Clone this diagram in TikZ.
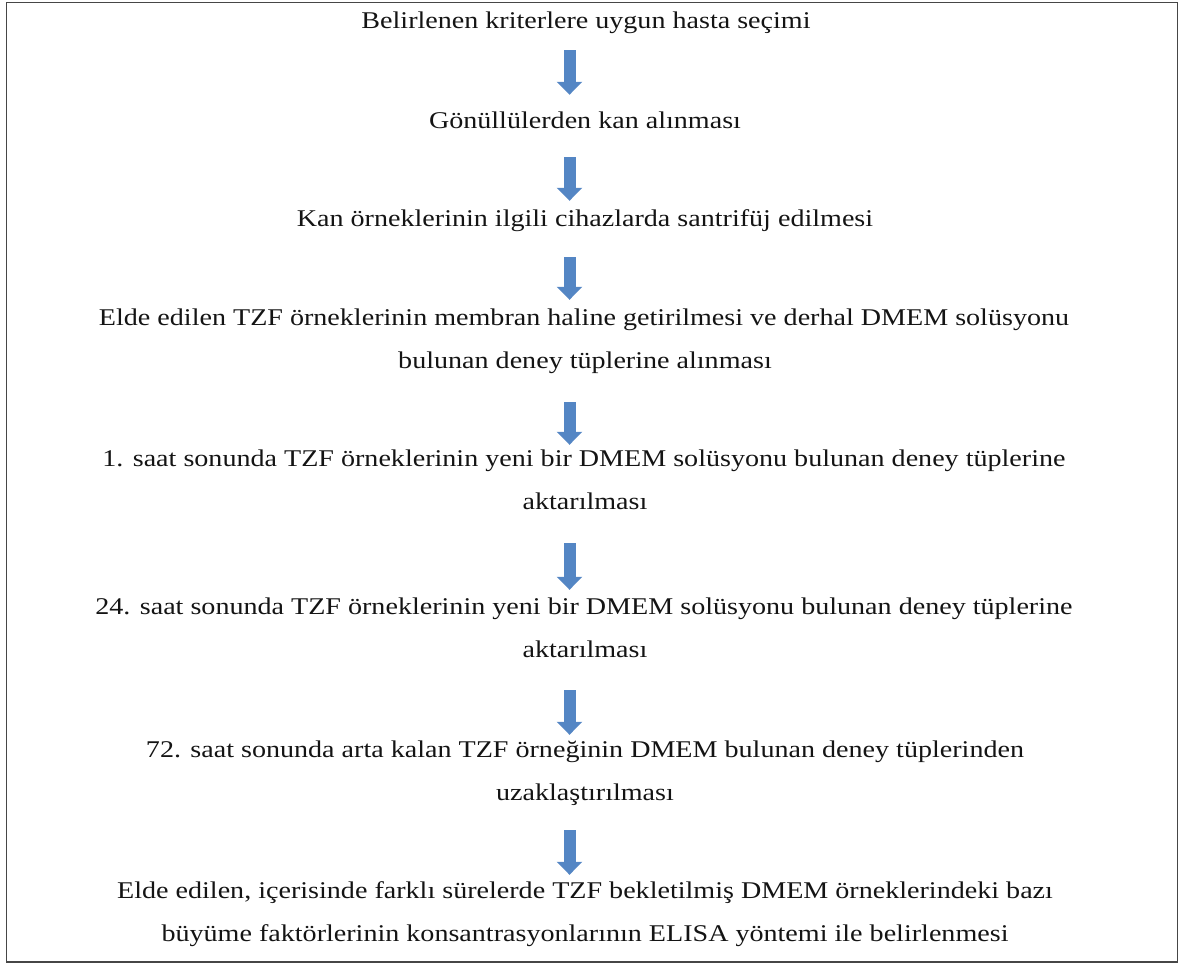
\documentclass[tikz,border=0pt]{standalone}
\usepackage{fontspec}
\setmainfont{Liberation Serif}
\newfontfamily\widefont[FakeStretch=1.17]{Liberation Serif}
\usetikzlibrary{arrows.meta}
\definecolor{arrowblue}{RGB}{84,134,196}
\definecolor{framegray}{RGB}{70,70,70}
\begin{document}
\begin{tikzpicture}[x=1pt,y=-1pt,
  line/.style={anchor=base,inner sep=0pt,text height=17pt,text depth=6pt,
    font=\widefont\fontsize{24}{29}\selectfont,text=black!92},
  blockarrow/.style={draw=arrowblue,line width=12pt,
    -{Triangle[width=25pt,length=13pt]}},
]
\useasboundingbox (0,0) rectangle (1179,965);
\draw[framegray,line width=1.6pt] (6.5,2.5) rectangle (1177.5,962);

\node[line] (n1) at (586,29) {Belirlenen kriterlere uygun hasta seçimi};
\node[line] (n2) at (585,129) {Gönüllülerden kan alınması};
\node[line] (n3) at (585,227) {Kan örneklerinin ilgili cihazlarda santrifüj edilmesi};
\node[line] (n4a) at (584,326) {Elde edilen TZF örneklerinin membran haline getirilmesi ve derhal DMEM solüsyonu};
\node[line] (n4b) at (585,369) {bulunan deney tüplerine alınması};
\node[line] (n5a) at (584,467) {1. saat sonunda TZF örneklerinin yeni bir DMEM solüsyonu bulunan deney tüplerine};
\node[line] (n5b) at (585,510) {aktarılması};
\node[line] (n6a) at (584,614) {24. saat sonunda TZF örneklerinin yeni bir DMEM solüsyonu bulunan deney tüplerine};
\node[line] (n6b) at (585,657) {aktarılması};
\node[line] (n7a) at (585,757) {72. saat sonunda arta kalan TZF örneğinin DMEM bulunan deney tüplerinden};
\node[line] (n7b) at (585,800) {uzaklaştırılması};
\node[line] (n8a) at (585,898) {Elde edilen, içerisinde farklı sürelerde TZF bekletilmiş DMEM örneklerindeki bazı};
\node[line] (n8b) at (585,941) {büyüme faktörlerinin konsantrasyonlarının ELISA yöntemi ile belirlenmesi};

\coordinate (ax) at (569.5,0);
\draw[blockarrow,shorten <=15pt,shorten >=17pt] (n1.south -| ax) -- (n2.north -| ax);
\draw[blockarrow,shorten <=22pt,shorten >=9pt] (n2.south -| ax) -- (n3.north -| ax);
\draw[blockarrow,shorten <=24pt,shorten >=9pt] (n3.south -| ax) -- (n4a.north -| ax);
\draw[blockarrow,shorten <=27pt,shorten >=5pt] (n4b.south -| ax) -- (n5a.north -| ax);
\draw[blockarrow,shorten <=27pt,shorten >=7pt] (n5b.south -| ax) -- (n6a.north -| ax);
\draw[blockarrow,shorten <=27pt,shorten >=5pt] (n6b.south -| ax) -- (n7a.north -| ax);
\draw[blockarrow,shorten <=24pt,shorten >=6pt] (n7b.south -| ax) -- (n8a.north -| ax);
\end{tikzpicture}
\end{document}
